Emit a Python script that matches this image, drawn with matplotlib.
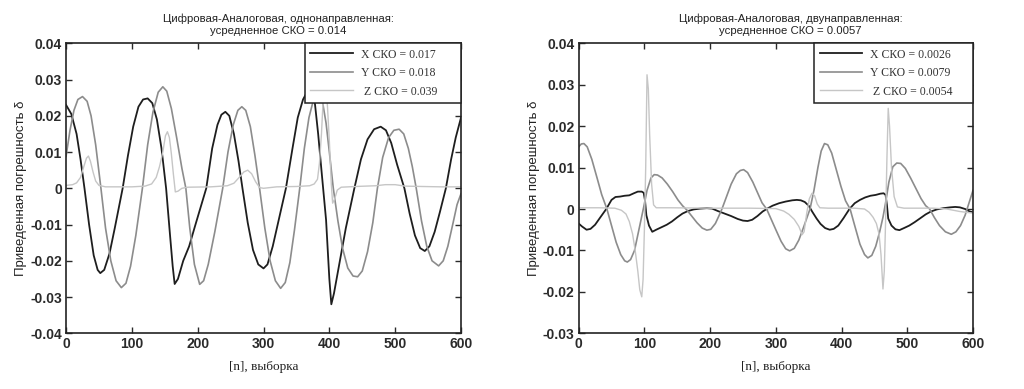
import matplotlib

matplotlib.use("Agg")

import matplotlib.pyplot as plt


# samples: (n, value) knots, left panel (однонаправленная)
left_x_n = [0, 8, 16, 22, 28, 35, 42, 48, 52, 58, 66, 74, 80, 86, 94, 102, 110, 117, 124, 131,
            138, 145, 152, 158, 162, 165, 170, 178, 187, 195, 204, 213, 222, 230, 236, 242, 248,
            255, 262, 268, 276, 284, 292, 300, 306, 314, 324, 334, 344, 352, 360, 366, 372, 378,
            383, 388, 395, 400, 403, 407, 415, 425, 438, 448, 458, 468, 478, 486, 494, 503, 514,
            522, 530, 538, 545, 552, 560, 568, 577, 585, 592, 600]
left_x_v = [0.0230, 0.0205, 0.0150, 0.0080, 0.0, -0.0100, -0.0185, -0.0225, -0.0234, -0.0225,
            -0.0180, -0.0110, -0.0055, 0.0, 0.0090, 0.0170, 0.0225, 0.0245, 0.0248, 0.0235,
            0.0190, 0.0110, 0.0, -0.0130, -0.0215, -0.0264, -0.0250, -0.0200, -0.0160, -0.0110,
            -0.0055, 0.0, 0.0110, 0.0175, 0.0203, 0.0211, 0.0200, 0.0150, 0.0075, 0.0, -0.0095,
            -0.0170, -0.0210, -0.0221, -0.0210, -0.0160, -0.0080, 0.0, 0.0110, 0.0195, 0.0245,
            0.0265, 0.0268, 0.0235, 0.0150, 0.0050, -0.0087, -0.0250, -0.0320, -0.0290, -0.0210,
            -0.0110, 0.0, 0.0080, 0.0135, 0.0163, 0.0170, 0.0160, 0.0125, 0.0065, 0.0, -0.0070,
            -0.0130, -0.0165, -0.0173, -0.0160, -0.0120, -0.0065, 0.0, 0.0080, 0.0140, 0.0195]

left_y_n = [0, 6, 12, 18, 25, 32, 38, 45, 53, 60, 68, 76, 84, 91, 98, 106, 116, 124, 132, 140,
            147, 153, 160, 168, 176, 182, 188, 195, 203, 209, 216, 226, 238, 246, 254, 261, 267,
            273, 280, 287, 294, 302, 310, 318, 326, 333, 340, 347, 355, 362, 369, 376, 383, 389,
            395, 400, 406, 413, 420, 428, 436, 443, 450, 458, 466, 473, 481, 490, 498, 506, 513,
            520, 526, 532, 540, 548, 556, 566, 573, 580, 588, 594, 600]
left_y_v = [0.0088, 0.0160, 0.0215, 0.0245, 0.0253, 0.0240, 0.0200, 0.0120, 0.0, -0.0110,
            -0.0200, -0.0255, -0.0274, -0.0262, -0.0215, -0.0130, 0.0, 0.0120, 0.0210, 0.0265,
            0.0280, 0.0268, 0.0220, 0.0140, 0.0055, 0.0, -0.0110, -0.0210, -0.0265, -0.0255,
            -0.0210, -0.0120, 0.0, 0.0100, 0.0175, 0.0215, 0.0225, 0.0215, 0.0170, 0.0090, 0.0,
            -0.0110, -0.0200, -0.0255, -0.0276, -0.0260, -0.0205, -0.0115, 0.0, 0.0110, 0.0195,
            0.0245, 0.0262, 0.0245, 0.0180, 0.0100, 0.0, -0.0090, -0.0165, -0.0220, -0.0242,
            -0.0244, -0.0228, -0.0175, -0.0095, 0.0, 0.0085, 0.0140, 0.0160, 0.0163, 0.0150,
            0.0110, 0.0060, 0.0, -0.0090, -0.0160, -0.0200, -0.0214, -0.0200, -0.0160, -0.0095,
            -0.0045, -0.0015]

left_z_n = [0, 10, 16, 22, 27, 31, 34, 37, 41, 45, 50, 60, 80, 100, 120, 130, 137, 142, 147,
            151, 154, 157, 160, 163, 166, 170, 176, 185, 220, 245, 255, 263, 270, 276, 282, 288,
            294, 300, 320, 350, 370, 377, 382, 385, 388, 391, 394, 397, 400, 403, 405, 408, 412,
            418, 440, 470, 485, 500, 515, 540, 570, 600]
left_z_v = [0.0008, 0.0010, 0.0015, 0.0030, 0.0060, 0.0083, 0.0089, 0.0075, 0.0045, 0.0020,
            0.0008, 0.0004, 0.0004, 0.0004, 0.0006, 0.0012, 0.0030, 0.0060, 0.0100, 0.0145,
            0.0156, 0.0140, 0.0095, 0.0040, -0.0010, -0.0008, 0.0, 0.0003, 0.0004, 0.0007,
            0.0014, 0.0030, 0.0045, 0.0050, 0.0040, 0.0018, 0.0002, 0.0, 0.0004, 0.0005, 0.0007,
            0.0012, 0.0025, 0.0070, 0.0150, 0.0260, 0.0290, 0.0230, 0.0130, 0.0010, -0.0041,
            -0.0030, -0.0005, 0.0003, 0.0005, 0.0007, 0.0010, 0.0010, 0.0006, 0.0005, 0.0004,
            0.0004]

# right panel (двунаправленная)
right_x_n = [0, 5, 12, 18, 25, 33, 42, 50, 56, 63, 70, 77, 84, 90, 96, 99, 101, 103, 107, 112,
             118, 126, 134, 142, 150, 158, 166, 175, 185, 195, 203, 212, 222, 232, 242, 250, 257,
             264, 272, 280, 287, 295, 305, 315, 325, 332, 338, 344, 350, 356, 362, 368, 375, 382,
             388, 395, 403, 412, 420, 428, 436, 444, 452, 459, 464, 467, 469, 471, 476, 482, 488,
             495, 503, 511, 520, 528, 536, 545, 555, 565, 573, 580, 588, 595, 600]
right_x_v = [-0.0035, -0.0042, -0.0050, -0.0048, -0.0038, -0.0020, 0.0, 0.0022, 0.0029, 0.0030,
             0.0032, 0.0033, 0.0038, 0.0042, 0.0042, 0.0039, 0.0020, -0.0015, -0.0040, -0.0055,
             -0.0050, -0.0044, -0.0038, -0.0030, -0.0020, -0.0011, -0.0005, -0.0001, 0.0001,
             0.0002, 0.0001, -0.0005, -0.0011, -0.0017, -0.0024, -0.0028, -0.0029, -0.0026,
             -0.0017, -0.0006, 0.0001, 0.0008, 0.0014, 0.0018, 0.0021, 0.0022, 0.0021, 0.0017,
             0.0008, -0.0008, -0.0023, -0.0036, -0.0046, -0.0050, -0.0048, -0.0040, -0.0022, 0.0,
             0.0014, 0.0022, 0.0028, 0.0032, 0.0034, 0.0037, 0.0038, 0.0034, 0.0010, -0.0023,
             -0.0040, -0.0049, -0.0051, -0.0046, -0.0040, -0.0032, -0.0022, -0.0013, -0.0006,
             -0.0001, 0.0002, 0.0004, 0.0005, 0.0004, 0.0, -0.0006, -0.0008]

right_y_n = [0, 4, 8, 13, 20, 28, 35, 43, 50, 57, 64, 70, 74, 79, 85, 91, 95, 99, 104, 110, 115,
             120, 127, 135, 143, 151, 158, 165, 172, 180, 188, 195, 201, 208, 213, 218, 225, 232,
             240, 246, 251, 257, 265, 272, 279, 286, 293, 300, 308, 315, 321, 328, 335, 342, 348,
             352, 358, 364, 369, 374, 379, 385, 392, 399, 406, 413, 420, 428, 435, 440, 446, 452,
             458, 463, 467, 472, 478, 484, 490, 497, 505, 513, 521, 528, 534, 541, 549, 558, 567,
             574, 581, 588, 594, 600]
right_y_v = [0.0150, 0.0157, 0.0158, 0.0150, 0.0120, 0.0075, 0.0035, 0.0, -0.0040, -0.0080,
             -0.0110, -0.0125, -0.0128, -0.0122, -0.0100, -0.0055, -0.0025, 0.0005, 0.0045,
             0.0075, 0.0083, 0.0082, 0.0075, 0.0060, 0.0042, 0.0022, 0.0008, -0.0003, -0.0017,
             -0.0033, -0.0046, -0.0051, -0.0049, -0.0035, -0.0018, 0.0, 0.0030, 0.0060, 0.0085,
             0.0093, 0.0095, 0.0088, 0.0065, 0.0040, 0.0015, 0.0, -0.0025, -0.0050, -0.0078,
             -0.0096, -0.0101, -0.0095, -0.0075, -0.0045, -0.0018, 0.0, 0.0045, 0.0100, 0.0140,
             0.0158, 0.0155, 0.0135, 0.0095, 0.0055, 0.0020, 0.0, -0.0040, -0.0085, -0.0110,
             -0.0118, -0.0112, -0.0090, -0.0055, -0.0020, 0.0015, 0.0065, 0.0102, 0.0111, 0.0110,
             0.0098, 0.0075, 0.0050, 0.0025, 0.0008, 0.0, -0.0020, -0.0040, -0.0055, -0.0061,
             -0.0055, -0.0040, -0.0015, 0.0015, 0.0045]

right_z_n = [0, 30, 55, 65, 72, 77, 82, 86, 90, 93, 96, 98, 100, 102, 104, 106, 108, 111, 114,
             118, 140, 200, 260, 300, 312, 320, 328, 335, 340, 343, 347, 351, 355, 359, 363, 367,
             380, 420, 435, 442, 448, 453, 457, 460, 463, 465, 467, 469, 471, 473, 476, 480, 485,
             495, 540, 560, 580, 600]
right_z_v = [0.0003, 0.0003, 0.0002, -0.0003, -0.0012, -0.0030, -0.0060, -0.0100, -0.0150,
             -0.0195, -0.0212, -0.0170, -0.0050, 0.0100, 0.0324, 0.0290, 0.0180, 0.0060, 0.0010,
             0.0003, 0.0003, 0.0002, 0.0002, 0.0001, -0.0005, -0.0013, -0.0025, -0.0042, -0.0062,
             -0.0055, -0.0010, 0.0025, 0.0038, 0.0032, 0.0012, 0.0003, 0.0002, 0.0002, 0.0,
             -0.0008, -0.0020, -0.0035, -0.0060, -0.0110, -0.0193, -0.0150, -0.0030, 0.0120,
             0.0243, 0.0200, 0.0100, 0.0030, 0.0005, 0.0002, 0.0002, 0.0, -0.0006, -0.0010]

titles = ["Цифровая-Аналоговая, однонаправленная:\nусредненное СКО = 0.014",
          "Цифровая-Аналоговая, двунаправленная:\nусредненное СКО = 0.0057"]
left_labels = ["X СКО = 0.017", "Y СКО = 0.018", " Z СКО = 0.039"]
right_labels = ["X СКО = 0.0026", "Y СКО = 0.0079", " Z СКО = 0.0054"]

x_ticks = [0, 100, 200, 300, 400, 500, 600]
left_y_ticks = [-0.04, -0.03, -0.02, -0.01, 0, 0.01, 0.02, 0.03, 0.04]
left_y_tick_labels = ["-0.04", "-0.03", "-0.02", "-0.01", "0", "0.01", "0.02", "0.03", "0.04"]
right_y_ticks = [-0.03, -0.02, -0.01, 0, 0.01, 0.02, 0.03, 0.04]
right_y_tick_labels = ["-0.03", "-0.02", "-0.01", "0", "0.01", "0.02", "0.03", "0.04"]

x_label = "[n], выборка"
y_label = "Приведенная погрешность δ"

LINE_COLORS = ["#1e1e1e", "#8c8c8c", "#c6c6c6"]
LINE_WIDTHS = [1.3, 1.2, 1.0]


def draw_panel(ax, series, labels, title, y_ticks, y_tick_labels, legend_x0):
    
    lines = []
    
    for (n, v), color, lw in zip(series, LINE_COLORS, LINE_WIDTHS):
        
        line, = ax.plot(n, v, color=color, linewidth=lw)
        lines.append(line)
    
    ax.set_xlim(0, 600)
    ax.set_ylim(y_ticks[0], y_ticks[-1])
    ax.set_xticks(x_ticks)
    ax.set_xticklabels([str(t) for t in x_ticks], fontweight="bold")
    ax.set_yticks(y_ticks)
    ax.set_yticklabels(y_tick_labels, fontweight="bold")
    
    ax.tick_params(direction="in", top=True, right=True, length=4, width=1,
                   labelsize=10, colors="#2a2a2a", pad=3)
    
    for spine in ax.spines.values():
        
        spine.set_linewidth(1.2)
        spine.set_color("#222222")
    
    ax.set_title(title, fontsize=8.2, x=0.537, pad=7, linespacing=1.2,
                 family="Liberation Sans", color="#222222")
    ax.set_xlabel(x_label, fontsize=9.5, family="Liberation Serif", labelpad=7,
                  color="#222222")
    ax.set_ylabel(y_label, fontsize=9.5, family="Liberation Sans", labelpad=2,
                  color="#222222")
    
    legend = ax.legend(lines, labels, loc="upper right", mode="expand",
                       bbox_to_anchor=(legend_x0, 0.0, 1.0 - legend_x0, 1.0),
                       borderaxespad=0, fancybox=False,
                       framealpha=1, edgecolor="#222222", handlelength=3.6,
                       handletextpad=0.7, labelspacing=0.55, borderpad=0.45,
                       prop={"family": "Liberation Serif", "size": 8.5})
    legend.get_frame().set_linewidth(1.1)
    
    for text in legend.get_texts():
        
        text.set_color("#333333")
    
    return


def main():
    
    plt.rcParams["font.family"] = ["Liberation Sans", "DejaVu Sans"]
    
    fig = plt.figure(figsize=(10.24, 3.89), dpi=100)
    ax_left = fig.add_axes([0.0645, 0.1432, 0.3857, 0.7455])
    ax_right = fig.add_axes([0.5651, 0.1432, 0.3851, 0.7455])
    
    draw_panel(ax_left,
               [(left_x_n, left_x_v), (left_y_n, left_y_v), (left_z_n, left_z_v)],
               left_labels, titles[0], left_y_ticks, left_y_tick_labels, 0.605)
    draw_panel(ax_right,
               [(right_x_n, right_x_v), (right_y_n, right_y_v), (right_z_n, right_z_v)],
               right_labels, titles[1], right_y_ticks, right_y_tick_labels, 0.5975)
    
    fig.savefig("out.png", dpi=100)
    plt.close(fig)
    
    return


if __name__ == "__main__":
    
    main()
